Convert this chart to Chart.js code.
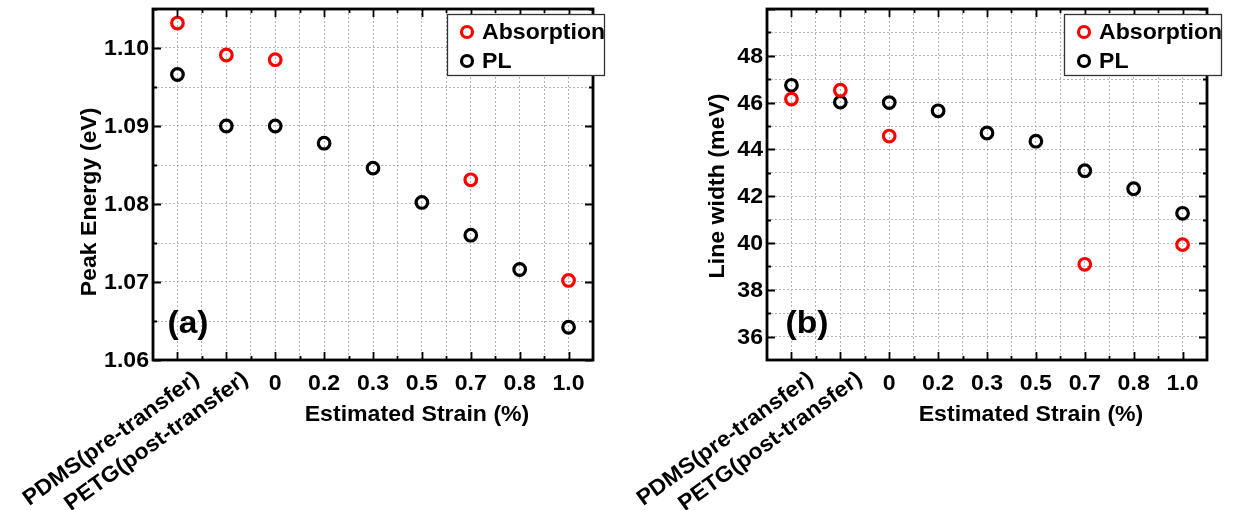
<!DOCTYPE html>
<html>
<head>
<meta charset="utf-8">
<title>Peak energy and line width vs strain</title>
<script src="https://cdn.jsdelivr.net/npm/chart.js@4.4.1/dist/chart.umd.min.js"></script>
<style>
  html, body { margin: 0; padding: 0; background: #fff; }
  #wrap { position: relative; width: 1233px; height: 510px; overflow: hidden; }
  canvas { position: absolute; top: 0; }
  #energyChart { left: 0; }
  #widthChart { left: 617px; }
</style>
</head>
<body>
<div id="wrap">
  <canvas id="energyChart" width="616" height="510"></canvas>
  <canvas id="widthChart" width="616" height="510"></canvas>
</div>
<script>
const categories = ["PDMS(pre-transfer)", "PETG(post-transfer)", "0", "0.2", "0.3", "0.5", "0.7", "0.8", "1.0"];

// Peak energy (eV)
const energyAbsorption = [1.1032, 1.0991, 1.0985, null, null, null, 1.0831, null, 1.0702];
const energyPL = [1.0966, 1.0900, 1.0900, 1.0878, 1.0846, 1.0802, 1.0760, 1.0716, 1.0642];
const energyTicks = ["1.06", "1.07", "1.08", "1.09", "1.10"];

// Line width (meV)
const widthAbsorption = [46.15, 46.53, 44.57, null, null, null, 39.09, null, 39.93];
const widthPL = [46.74, 46.02, 46.00, 45.65, 44.70, 44.35, 43.09, 42.32, 41.27];
const widthTicks = ["36", "38", "40", "42", "44", "46", "48"];

const seriesNames = ["Absorption", "PL"];
const seriesColors = ["#ff0000", "#000000"];

const FONT = '"Liberation Sans", Arial, sans-serif';
const SX = 1.05;   // the original lettering is a touch wider than Arial

function toPoints(values) {
    return values
        .map((v, i) => (v === null ? null : { x: i, y: v }))
        .filter(p => p !== null);
}

function text(ctx, s, x, y, size, align, base, rot) {
    ctx.save();
    ctx.translate(x, y);
    if (rot) ctx.rotate(rot);
    ctx.scale(SX, 1);
    ctx.font = "bold " + size + "px " + FONT;
    ctx.fillStyle = "#000";
    ctx.textAlign = align;
    ctx.textBaseline = base;
    ctx.fillText(s, 0, 0);
    ctx.restore();
}

// frame, inward ticks, all lettering and the legend
const decorPlugin = {
    id: "decor",
    afterDraw(chart, args, opts) {
        const ctx = chart.ctx;
        const a = chart.chartArea;
        const xs = chart.scales.x;
        const ys = chart.scales.y;

        ctx.save();
        ctx.strokeStyle = "#000";
        ctx.lineWidth = 1.8;
        // x ticks, bottom and top
        for (let v = 0; v <= categories.length - 1; v += 0.5) {
            const px = Math.round(xs.getPixelForValue(v)) + 0.5;
            const len = Number.isInteger(v) ? 8 : 4;
            ctx.beginPath();
            ctx.moveTo(px, a.bottom); ctx.lineTo(px, a.bottom - len);
            ctx.moveTo(px, a.top); ctx.lineTo(px, a.top + len);
            ctx.stroke();
        }
        // y ticks, left and right
        opts.minorTicks.forEach((v, i) => {
            const py = Math.round(ys.getPixelForValue(v)) + 0.5;
            const len = i % 2 === 0 ? 8 : 4;
            ctx.beginPath();
            ctx.moveTo(a.left, py); ctx.lineTo(a.left + len, py);
            ctx.moveTo(a.right, py); ctx.lineTo(a.right - len, py);
            ctx.stroke();
        });
        // frame
        ctx.lineWidth = 2.8;
        ctx.strokeRect(a.left, a.top, a.right - a.left, a.bottom - a.top);
        ctx.restore();

        // y tick labels
        opts.yLabels.forEach(lbl => {
            text(ctx, lbl, a.left - 4, ys.getPixelForValue(parseFloat(lbl)) + 1, 22, "right", "middle");
        });

        // x tick labels
        categories.forEach((c, i) => {
            const px = xs.getPixelForValue(i);
            if (i < 2) {
                text(ctx, c, px + 13, a.bottom + 8, 22, "right", "top", -36 * Math.PI / 180);
            } else {
                text(ctx, c, px, a.bottom + 30, 22, "center", "alphabetic");
            }
        });

        // axis titles
        text(ctx, "Estimated Strain (%)", (a.left + a.right) / 2 + 44, a.bottom + 61, 22, "center", "alphabetic");
        text(ctx, opts.yTitle, opts.yTitleX, opts.yTitleY, 22, "center", "middle", -Math.PI / 2);

        // panel letter
        text(ctx, opts.panel, a.left + opts.panelDx, a.bottom - 36, 32, "center", "middle");

        // legend
        const bx = a.right - opts.legendDx, by = 14, bw = 157, bh = 61;
        ctx.save();
        ctx.fillStyle = "#fff";
        ctx.fillRect(bx, by, bw, bh);
        ctx.strokeStyle = "#333";
        ctx.lineWidth = 1.3;
        ctx.strokeRect(bx + 0.5, by + 0.5, bw, bh);
        seriesNames.forEach((name, i) => {
            const ly = by + 18 + i * 29;
            ctx.beginPath();
            ctx.arc(bx + 20, ly, 5.5, 0, Math.PI * 2);
            ctx.strokeStyle = seriesColors[i];
            ctx.lineWidth = 3.2;
            ctx.stroke();
            text(ctx, name, bx + 35, ly + 1, 22, "left", "middle");
        });
        ctx.restore();
    }
};

function makeChart(id, absVals, plVals, yMin, yMax, yStep, deco, yWidth, rightPad) {
    const minor = [];
    for (let v = yMin; v <= yMax + 1e-9; v += yStep) minor.push(+v.toFixed(4));
    // start the major/minor alternation from the first labelled value
    const firstMajor = parseFloat(deco.yLabels[0]);
    const ticksFromMajor = minor.filter(v => v >= firstMajor - 1e-9);

    return new Chart(document.getElementById(id), {
        type: "scatter",
        data: {
            datasets: [
                {
                    label: seriesNames[0],
                    data: toPoints(absVals),
                    borderColor: seriesColors[0],
                    backgroundColor: "rgba(0,0,0,0)",
                    pointRadius: 5.8,
                    pointBorderWidth: 3.2
                },
                {
                    label: seriesNames[1],
                    data: toPoints(plVals),
                    borderColor: seriesColors[1],
                    backgroundColor: "rgba(0,0,0,0)",
                    pointRadius: 5.8,
                    pointBorderWidth: 3.2
                }
            ]
        },
        options: {
            responsive: false,
            animation: false,
            devicePixelRatio: 1,
            layout: { padding: { top: 6, right: rightPad, left: 0, bottom: 0 } },
            plugins: {
                legend: { display: false },
                tooltip: { enabled: false },
                decor: Object.assign({ minorTicks: ticksFromMajor }, deco)
            },
            scales: {
                x: {
                    type: "linear",
                    min: -0.5,
                    max: categories.length - 0.5,
                    ticks: { display: false, stepSize: 0.5, autoSkip: false },
                    grid: { color: "#b4b4b4", lineWidth: 1, drawTicks: false },
                    border: { display: false, dash: [2, 2] },
                    afterFit: s => { s.height = 150; }
                },
                y: {
                    min: yMin,
                    max: yMax,
                    ticks: { display: false, stepSize: yStep, autoSkip: false },
                    grid: { color: "#b4b4b4", lineWidth: 1, drawTicks: false },
                    border: { display: false, dash: [2, 2] },
                    afterFit: s => { s.width = yWidth; }
                }
            }
        },
        plugins: [decorPlugin]
    });
}

makeChart("energyChart", energyAbsorption, energyPL, 1.06, 1.105, 0.005, {
    yLabels: energyTicks,
    yTitle: "Peak Energy (eV)",
    yTitleX: 90,
    yTitleY: 202,
    panel: "(a)",
    panelDx: 35,
    legendDx: 146
}, 153, 23);

makeChart("widthChart", widthAbsorption, widthPL, 35, 50, 1, {
    yLabels: widthTicks,
    yTitle: "Line width (meV)",
    yTitleX: 101,
    yTitleY: 186,
    panel: "(b)",
    panelDx: 40,
    legendDx: 143
}, 150, 26);
</script>
</body>
</html>
